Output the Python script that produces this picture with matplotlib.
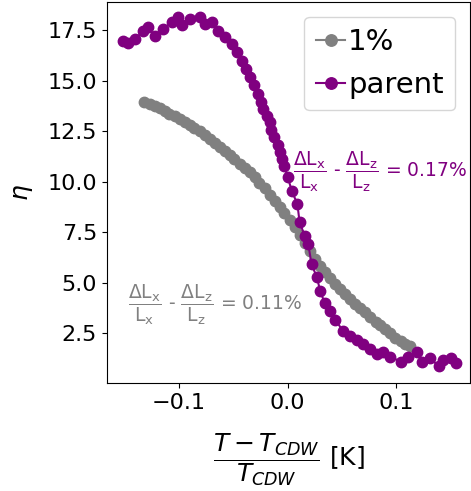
import numpy as np
import matplotlib.pyplot as plt

# 1% doped sample
t_doped = [-0.132, -0.127, -0.122, -0.118, -0.113, -0.109, -0.104, -0.099, -0.095, -0.090,
           -0.086, -0.081, -0.076, -0.072, -0.067, -0.062, -0.058, -0.053, -0.049, -0.044,
           -0.039, -0.035, -0.030, -0.026, -0.021, -0.016, -0.012, -0.007, -0.003, 0.002,
           0.007, 0.011, 0.016, 0.021, 0.025, 0.030, 0.034, 0.039, 0.044, 0.048,
           0.053, 0.057, 0.062, 0.067, 0.071, 0.076, 0.081, 0.085, 0.090, 0.094,
           0.099, 0.104, 0.108, 0.113]
eta_doped = [13.94, 13.84, 13.74, 13.64, 13.49, 13.34, 13.24, 13.09, 12.95, 12.80,
             12.65, 12.50, 12.30, 12.10, 11.91, 11.71, 11.51, 11.31, 11.11, 10.87,
             10.67, 10.47, 10.22, 9.93, 9.68, 9.33, 9.04, 8.74, 8.44, 8.09,
             7.75, 7.35, 6.96, 6.56, 6.16, 5.82, 5.52, 5.22, 4.93, 4.68,
             4.43, 4.19, 3.94, 3.74, 3.54, 3.29, 3.09, 2.90, 2.70, 2.50,
             2.30, 2.15, 2.00, 1.86]

# parent compound
t_parent = [-0.152, -0.147, -0.141, -0.133, -0.129, -0.122, -0.115, -0.107, -0.101, -0.097,
            -0.090, -0.081, -0.076, -0.070, -0.064, -0.058, -0.051, -0.047, -0.042, -0.038,
            -0.035, -0.031, -0.027, -0.025, -0.023, -0.019, -0.016, -0.015, -0.013, -0.009,
            -0.007, -0.005, -0.003, 0.000, 0.004, 0.009, 0.011, 0.016, 0.019, 0.022,
            0.027, 0.030, 0.034, 0.039, 0.044, 0.051, 0.057, 0.064, 0.069, 0.076,
            0.082, 0.088, 0.094, 0.104, 0.111, 0.119, 0.124, 0.131, 0.139, 0.143,
            0.150, 0.155]
eta_parent = [16.96, 16.86, 17.05, 17.45, 17.65, 17.20, 17.55, 17.90, 18.14, 17.75,
              18.04, 18.14, 17.80, 17.90, 17.45, 17.15, 16.81, 16.41, 15.97, 15.57,
              15.17, 14.78, 14.33, 13.94, 13.59, 13.24, 12.95, 12.55, 12.21, 11.81,
              11.46, 11.12, 10.77, 10.23, 9.53, 8.89, 7.99, 7.30, 6.91, 5.92,
              5.27, 4.58, 4.03, 3.59, 3.19, 2.60, 2.35, 2.20, 1.96, 1.71,
              1.46, 1.56, 1.36, 1.11, 1.36, 1.56, 1.11, 1.31, 0.87, 1.21,
              1.31, 1.06]

strain_label = r'$\dfrac{\mathrm{\Delta L_x}}{\mathrm{L_x}}$ - $\dfrac{\mathrm{\Delta L_z}}{\mathrm{L_z}}$ = '

fig = plt.figure(figsize=(4.71, 4.91), dpi=100)
ax = fig.add_axes([0.227, 0.22, 0.771, 0.776])

ax.plot(t_doped, eta_doped, '-o', color='grey', markersize=7.5, label='1%')
ax.plot(t_parent, eta_parent, '-o', color='purple', markersize=7.5, label='parent')

ax.text(0.005, 10.5, strain_label + '0.17%',
        color='purple', fontsize=13.5, va='center', ha='left')
ax.text(-0.147, 3.9, strain_label + '0.11%',
        color='grey', fontsize=13.5, va='center', ha='left')

ax.set_xlim(-0.1665, 0.168)
ax.set_ylim(0.05, 18.9)
ax.set_yticks([2.5, 5.0, 7.5, 10.0, 12.5, 15.0, 17.5])
ax.set_xticks([-0.1, 0.0, 0.1])
ax.tick_params(labelsize=16)
ax.set_xlabel(r'$\dfrac{T - T_{CDW}}{T_{CDW}}$ [K]', fontsize=18, labelpad=14)
ax.set_ylabel(r'$\eta$', fontsize=18, labelpad=9)
ax.legend(loc='upper right', fontsize=21, handlelength=1.0, handletextpad=0.1,
          markerscale=1.1)

fig.savefig('out.png', dpi=100)
